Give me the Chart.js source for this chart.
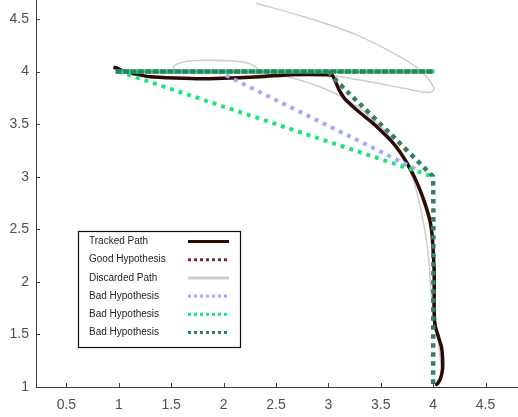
<!DOCTYPE html>
<html>
<head>
<meta charset="utf-8">
<script src="https://cdn.jsdelivr.net/npm/chart.js@4/dist/chart.umd.min.js"></script>
<style>
  html, body { margin: 0; padding: 0; background: #fff; }
  #wrap { width: 518px; height: 417px; position: relative; }
</style>
</head>
<body>
<div id="wrap"><canvas id="chart"></canvas></div>
<script>
// tick labels
var xTicks = [0.5, 1, 1.5, 2, 2.5, 3, 3.5, 4, 4.5];
var yTicks = [1, 1.5, 2, 2.5, 3, 3.5, 4, 4.5];

// tracked path
var trackedX = [0.95, 0.99, 1.05, 1.3, 1.78, 2.35, 2.65, 2.98, 3.04, 3.07, 3.1, 3.15, 3.22, 3.3, 3.4, 3.5, 3.6, 3.68, 3.75, 3.82, 3.88, 3.93, 3.97, 3.99, 4.0, 4.01, 4.01, 4.01, 4.02, 4.05, 4.08, 4.09, 4.09, 4.07, 4.04, 4.02];
var trackedY = [4.04, 4.03, 4.0, 3.95, 3.93, 3.95, 3.97, 3.97, 3.96, 3.9, 3.83, 3.75, 3.68, 3.61, 3.53, 3.44, 3.34, 3.24, 3.13, 3.0, 2.86, 2.72, 2.58, 2.45, 2.3, 2.1, 1.9, 1.7, 1.58, 1.48, 1.38, 1.28, 1.17, 1.08, 1.03, 1.02];

// good hypothesis follows the tracked path, hidden under it
var goodX = trackedX;
var goodY = trackedY;

// discarded paths, segments split by null
var discardedX = [1.56, 1.52, 1.58, 1.72, 2.1, 2.26, 2.33, 2.3, 1.56, null,
  2.31, 2.77, 3.24, 3.63, 3.88, 4.01, 3.97, 3.72, 3.41, 3.18, 3.0, null,
  2.3, 2.6, 2.93, 3.18, 3.41, 3.6, 3.8, 3.91, 3.96, 3.98, 4.03, 4.07, 4.08, 4.05];
var discardedY = [4.0, 4.04, 4.08, 4.105, 4.1, 4.07, 4.02, 4.0, 4.0, null,
  4.65, 4.52, 4.36, 4.17, 4.01, 3.84, 3.8, 3.84, 3.9, 3.94, 3.97, null,
  3.98, 3.95, 3.85, 3.73, 3.56, 3.36, 3.0, 2.55, 2.2, 1.9, 1.57, 1.26, 1.1, 1.02];

// bad hypotheses
var badBlueX = [1, 1.95, 3.88];
var badBlueY = [4, 4, 3.05];
var badGreenX = [1, 4];
var badGreenY = [4, 3];
var badDarkX = [3, 3.06, 3.2, 3.6, 3.97, 4, 4];
var badDarkY = [4, 3.93, 3.79, 3.4, 3.03, 3, 1];
// shared straight hypothesis along y = 4
var straightX = [0.97, 4.01];
var straightY = [4, 4];

function pts(xs, ys) {
  return xs.map(function (x, i) { return { x: x, y: ys[i] }; });
}

var colTracked = '#2a0c04';
var colGood = '#7a2b38';
var colDiscarded = '#cdcdcd';
var colBlue = '#a6a8ff';
var colGreen = '#1fe383';
var colDark = '#32805f';

function line(label, data, color, width, dash, order, tension) {
  return {
    label: label,
    data: data,
    showLine: true,
    borderColor: color,
    backgroundColor: color,
    borderWidth: width,
    borderDash: dash,
    borderCapStyle: 'butt',
    pointRadius: 0,
    tension: tension || 0,
    spanGaps: false,
    order: order
  };
}

var datasets = [
  line('Tracked Path', pts(trackedX, trackedY), colTracked, 3.5, [], 5, 0.15),
  line('Good Hypothesis', pts(goodX, goodY), colGood, 2, [3, 3], 6, 0.15),
  line('Discarded Path', pts(discardedX, discardedY), colDiscarded, 1.5, [], 7, 0.3),
  line('Bad Hypothesis', pts(badBlueX, badBlueY), colBlue, 4, [4, 5], 4),
  line('Bad Hypothesis', pts(badGreenX, badGreenY), colGreen, 4, [4, 5], 3),
  line('Bad Hypothesis', pts(badDarkX, badDarkY), colDark, 4.5, [4.5, 4.5], 1, 0.2),
  line('', pts(straightX, straightY), colGreen, 4, [], 2),
  line('', pts(straightX, straightY), colDark, 4.5, [6, 1.4], 0)
];

// legend box drawn inside the plot
var legendBox = {
  id: 'legendBox',
  afterDraw: function (chart) {
    var ctx = chart.ctx;
    var left = 78, top = 231, w = 162, h = 116;
    ctx.save();
    ctx.fillStyle = '#fff';
    ctx.fillRect(left, top, w, h);
    ctx.strokeStyle = '#111';
    ctx.lineWidth = 1.2;
    ctx.strokeRect(left + 0.5, top + 0.5, w, h);
    var row = 0;
    chart.data.datasets.forEach(function (ds) {
      if (!ds.label) return;
      var y = top + 10.5 + row * 18.2;
      ctx.fillStyle = '#222';
      ctx.font = '10px "Liberation Sans", Arial, sans-serif';
      ctx.textAlign = 'left';
      ctx.textBaseline = 'middle';
      ctx.fillText(ds.label, left + 11, y);
      ctx.beginPath();
      ctx.strokeStyle = ds.borderColor;
      ctx.lineWidth = 3;
      ctx.setLineDash(ds.borderDash.length ? [3, 3] : []);
      ctx.lineCap = 'butt';
      ctx.moveTo(left + 110, y);
      ctx.lineTo(left + 151, y);
      ctx.stroke();
      ctx.setLineDash([]);
      row++;
    });
    ctx.restore();
  }
};

// inward tick marks
var inwardTicks = {
  id: 'inwardTicks',
  afterDraw: function (chart) {
    var ctx = chart.ctx;
    var xs = chart.scales.x, ys = chart.scales.y;
    var area = chart.chartArea;
    ctx.save();
    ctx.strokeStyle = '#404040';
    ctx.lineWidth = 1;
    xTicks.forEach(function (v) {
      var px = Math.round(xs.getPixelForValue(v)) + 0.5;
      ctx.beginPath();
      ctx.moveTo(px, area.bottom);
      ctx.lineTo(px, area.bottom - 4);
      ctx.stroke();
    });
    yTicks.forEach(function (v) {
      var py = Math.round(ys.getPixelForValue(v)) + 0.5;
      ctx.beginPath();
      ctx.moveTo(area.left, py);
      ctx.lineTo(area.left + 4, py);
      ctx.stroke();
    });
    ctx.restore();
  }
};

var tickFont = { family: '"Liberation Sans", Arial, sans-serif', size: 14 };
function plain(value) { return String(value); }

new Chart(document.getElementById('chart'), {
  type: 'scatter',
  data: { datasets: datasets },
  options: {
    responsive: true,
    maintainAspectRatio: false,
    animation: false,
    layout: { padding: 0 },
    plugins: { legend: { display: false }, tooltip: { enabled: false } },
    scales: {
      x: {
        type: 'linear',
        min: 0.21,
        max: 4.81,
        afterBuildTicks: function (scale) {
          scale.ticks = xTicks.map(function (v) { return { value: v }; });
        },
        afterFit: function (scale) {
          scale.height = 30;
          scale.paddingLeft = 0;
          scale.paddingRight = 0;
        },
        grid: { drawOnChartArea: false, drawTicks: false },
        border: { color: '#404040', width: 1 },
        ticks: { color: '#505050', font: tickFont, padding: 10, maxRotation: 0, autoSkip: false, callback: plain }
      },
      y: {
        type: 'linear',
        min: 1,
        max: 4.68,
        afterBuildTicks: function (scale) {
          scale.ticks = yTicks.map(function (v) { return { value: v }; });
        },
        afterFit: function (scale) {
          scale.width = 36;
          scale.paddingTop = 0;
          scale.paddingBottom = 0;
        },
        grid: { drawOnChartArea: false, drawTicks: false },
        border: { color: '#404040', width: 1 },
        ticks: { color: '#505050', font: tickFont, padding: 7, autoSkip: false, callback: plain }
      }
    }
  },
  plugins: [legendBox, inwardTicks]
});
</script>
</body>
</html>
